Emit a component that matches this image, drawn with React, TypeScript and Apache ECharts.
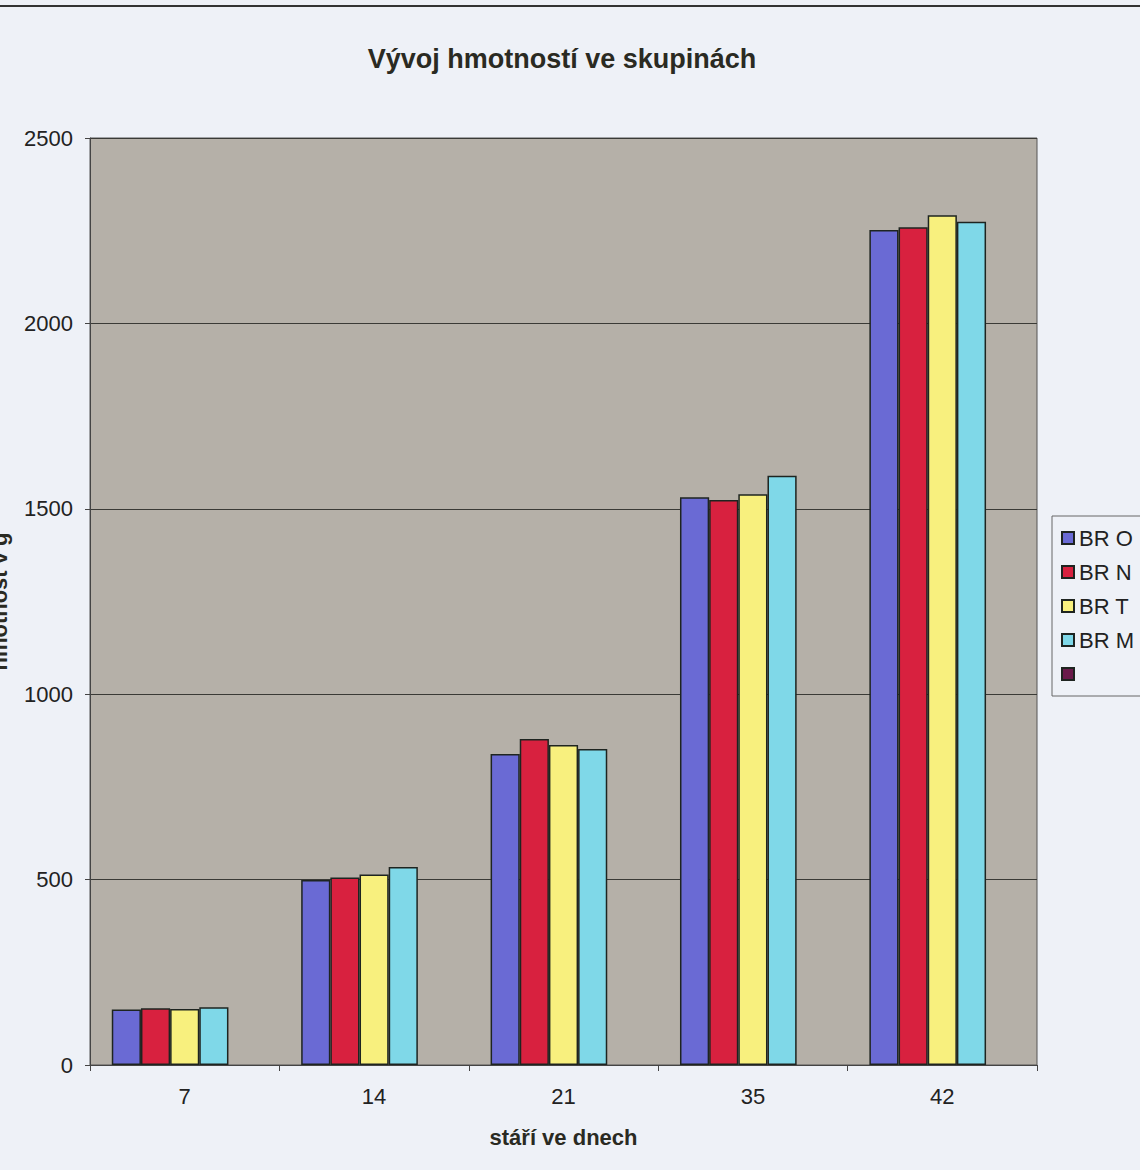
import React, { useEffect, useRef } from "react";
import * as echarts from "echarts";

// Age of the birds in days (x axis categories)
const categories = ["7", "14", "21", "35", "42"];

// Mean weight in grams for each group
const brO = [150, 499, 839, 1531, 2252];
const brN = [153, 506, 879, 1524, 2259];
const brT = [151, 514, 863, 1539, 2292];
const brM = [156, 534, 852, 1589, 2274];
// Fifth group has no measurements but keeps its slot and legend entry
const empty = [null, null, null, null, null];

const seriesNames = ["BR O", "BR N", "BR T", "BR M", " "];
const seriesColors = ["#6a6ad4", "#d8213f", "#f8f07e", "#7fd8e8", "#6a1a4a"];

const yTicks = { min: 0, max: 2500, interval: 500 };

export default function App() {
  const ref = useRef<HTMLDivElement>(null);

  useEffect(() => {
    if (!ref.current) return;
    const chart = echarts.init(ref.current, undefined, { renderer: "svg" });
    const data = [brO, brN, brT, brM, empty];
    chart.setOption({
      animation: false,
      backgroundColor: "#eef1f7",
      textStyle: { fontFamily: "Liberation Sans, Arial, sans-serif" },
      title: {
        text: "Vývoj hmotností ve skupinách",
        left: 557,
        textAlign: "center",
        top: 40,
        textStyle: { fontSize: 27, fontWeight: "bold", color: "#2a2a22" },
      },
      graphic: [
        {
          type: "line",
          shape: { x1: 0, y1: 6, x2: 1140, y2: 6 },
          style: { stroke: "#333", lineWidth: 2 },
        },
      ],
      legend: {
        orient: "vertical",
        left: 1052,
        top: 516,
        data: seriesNames,
        icon: "rect",
        itemWidth: 12,
        itemHeight: 12,
        itemGap: 12,
        padding: [11, 40, 11, 9],
        borderColor: "#666",
        borderWidth: 1,
        backgroundColor: "#eef1f7",
        selectedMode: false,
        textStyle: { fontSize: 22, color: "#222", lineHeight: 22 },
      },
      grid: {
        left: 90,
        right: 103,
        top: 138,
        bottom: 105,
        outerBoundsMode: "none",
        containLabel: false,
        show: true,
        backgroundColor: "#b5b0a8",
        borderColor: "#555",
        borderWidth: 1,
      },
      xAxis: {
        type: "category",
        data: categories,
        name: "stáří ve dnech",
        nameLocation: "middle",
        nameGap: 61,
        nameTextStyle: { fontSize: 22, fontWeight: "bold", color: "#2a2a22" },
        axisLine: { lineStyle: { color: "#444" } },
        axisTick: { show: true, alignWithLabel: false, length: 6, lineStyle: { color: "#444" } },
        axisLabel: { fontSize: 22, color: "#222", margin: 20 },
      },
      yAxis: {
        type: "value",
        min: yTicks.min,
        max: yTicks.max,
        interval: yTicks.interval,
        name: "hmotnost v g",
        nameLocation: "middle",
        nameGap: 80,
        nameTextStyle: { fontSize: 22, fontWeight: "bold", color: "#2a2a22" },
        axisLine: { show: true, lineStyle: { color: "#444" } },
        axisTick: { show: true, length: 5, lineStyle: { color: "#444" } },
        axisLabel: { fontSize: 22, color: "#222", margin: 17, formatter: (v: number) => String(v) },
        splitLine: { lineStyle: { color: "#3a3a36", width: 1 } },
      },
      series: seriesNames.map((name, i) => ({
        name,
        type: "bar",
        data: data[i],
        barGap: "0%",
        barCategoryGap: "23%",
        itemStyle: { color: seriesColors[i], borderColor: "#1e2420", borderWidth: 1.5 },
      })),
    });
    return () => chart.dispose();
  }, []);

  return (
    <div
      ref={ref}
      style={{ position: "absolute", left: 0, top: 0, width: 1140, height: 1170 }}
    />
  );
}
